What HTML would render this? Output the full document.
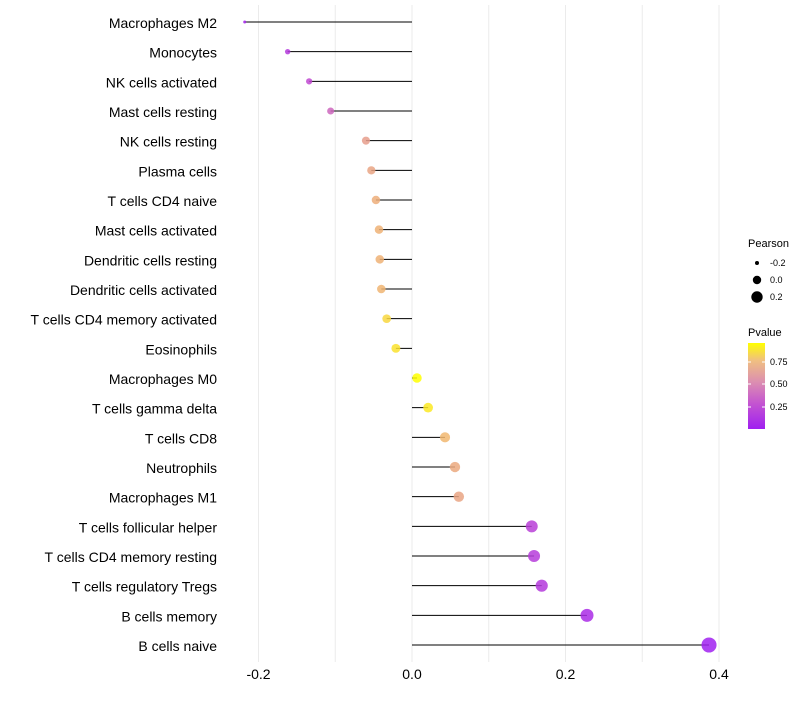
<!DOCTYPE html>
<html><head><meta charset="utf-8"><style>
body{margin:0;background:#fff;font-family:"Liberation Sans",sans-serif}
</style></head><body>
<svg id="c" width="800" height="700" xmlns="http://www.w3.org/2000/svg">
<defs><linearGradient id="pg" x1="0" y1="1" x2="0" y2="0">
<stop offset="0" stop-color="#a020f0"/><stop offset="0.3" stop-color="#c455d0"/><stop offset="0.55" stop-color="#dc8fb0"/><stop offset="0.8" stop-color="#f0c080"/><stop offset="1" stop-color="#ffff00"/>
</linearGradient></defs>
<g id="grid"></g><g id="marks"></g><g id="ylab"></g><g id="xlab"></g>
<g font-size="10">
<text x="748" y="247" font-size="11">Pearson</text>
<circle cx="757" cy="263" r="2" fill="#000"/><text x="770" y="266" font-size="9">-0.2</text>
<circle cx="757" cy="280" r="4.2" fill="#000"/><text x="770" y="283" font-size="9">0.0</text>
<circle cx="757" cy="297" r="5.7" fill="#000"/><text x="770" y="300" font-size="9">0.2</text>
</g>
<g>
<text x="748" y="336" font-size="11">Pvalue</text>
<rect x="748" y="343" width="17" height="86" fill="url(#pg)"/>
<line x1="748" y1="362" x2="751" y2="362" stroke="#fff"/><line x1="762" y1="362" x2="765" y2="362" stroke="#fff"/>
<line x1="748" y1="384" x2="751" y2="384" stroke="#fff"/><line x1="762" y1="384" x2="765" y2="384" stroke="#fff"/>
<line x1="748" y1="407" x2="751" y2="407" stroke="#fff"/><line x1="762" y1="407" x2="765" y2="407" stroke="#fff"/>
<text x="770" y="365" font-size="9">0.75</text><text x="770" y="387" font-size="9">0.50</text><text x="770" y="410" font-size="9">0.25</text>
</g>
</svg>
<script>
const categories=["Macrophages M2","Monocytes","NK cells activated","Mast cells resting","NK cells resting","Plasma cells","T cells CD4 naive","Mast cells activated","Dendritic cells resting","Dendritic cells activated","T cells CD4 memory activated","Eosinophils","Macrophages M0","T cells gamma delta","T cells CD8","Neutrophils","Macrophages M1","T cells follicular helper","T cells CD4 memory resting","T cells regulatory  Tregs","B cells memory","B cells naive"];
const pearson=[-0.218,-0.162,-0.134,-0.106,-0.060,-0.053,-0.047,-0.043,-0.042,-0.040,-0.033,-0.021,0.0065,0.021,0.043,0.056,0.061,0.156,0.159,0.169,0.228,0.387];
const pvalue=[0.05,0.2,0.3,0.42,0.65,0.68,0.72,0.74,0.74,0.75,0.85,0.88,0.97,0.9,0.76,0.7,0.68,0.24,0.22,0.2,0.1,0.01];
const xTicks=[-0.2,0.0,0.2,0.4];
const NS="http://www.w3.org/2000/svg";
const xs=v=>412+v*767.5;
const ys=i=>22+i*29.667;
const rs=v=>Math.sqrt(Math.max(2.25,2.25+90*(v+0.218)));
const stops=[[0,[160,32,240]],[0.3,[190,70,210]],[0.55,[218,130,170]],[0.8,[242,185,110]],[1,[255,255,0]]];
function col(p){const t=Math.min(1,Math.max(0,(p-0.006)/0.954));for(let k=1;k<stops.length;k++){if(t<=stops[k][0]){const a=stops[k-1],b=stops[k],f=(t-a[0])/(b[0]-a[0]);return "rgb("+a[1].map((c,j)=>Math.round(c+(b[1][j]-c)*f)).join(",")+")";}}return "rgb(255,255,0)";}
function mk(tag,at,parent){const e=document.createElementNS(NS,tag);for(const k in at)e.setAttribute(k,at[k]);document.getElementById(parent).appendChild(e);return e;}
[-0.3,-0.2,-0.1,0,0.1,0.2,0.3,0.4,0.5].forEach(v=>{const x=xs(v);if(x<225||x>740)return;
const g=mk("line",{x1:x,x2:x,y1:5,y2:662,stroke:"#ebebeb","stroke-width":1},"grid");

});
xTicks.forEach(v=>{const t=mk("text",{x:xs(v),y:679,"text-anchor":"middle","font-size":"14",fill:"#000"},"xlab");t.textContent=v.toFixed(1);

});
categories.forEach((c,i)=>{const y=ys(i);
const l=mk("line",{x1:xs(0),x2:xs(pearson[i]),y1:y,y2:y,stroke:"#000","stroke-width":1},"marks");


const p=mk("circle",{cx:xs(pearson[i]),cy:y,r:rs(pearson[i]),fill:col(pvalue[i]),"fill-opacity":0.85},"marks");


const t=mk("text",{x:217,y:y+6,"text-anchor":"end","font-size":"14",fill:"#000"},"ylab");t.textContent=c;

});
</script>
</body></html>
